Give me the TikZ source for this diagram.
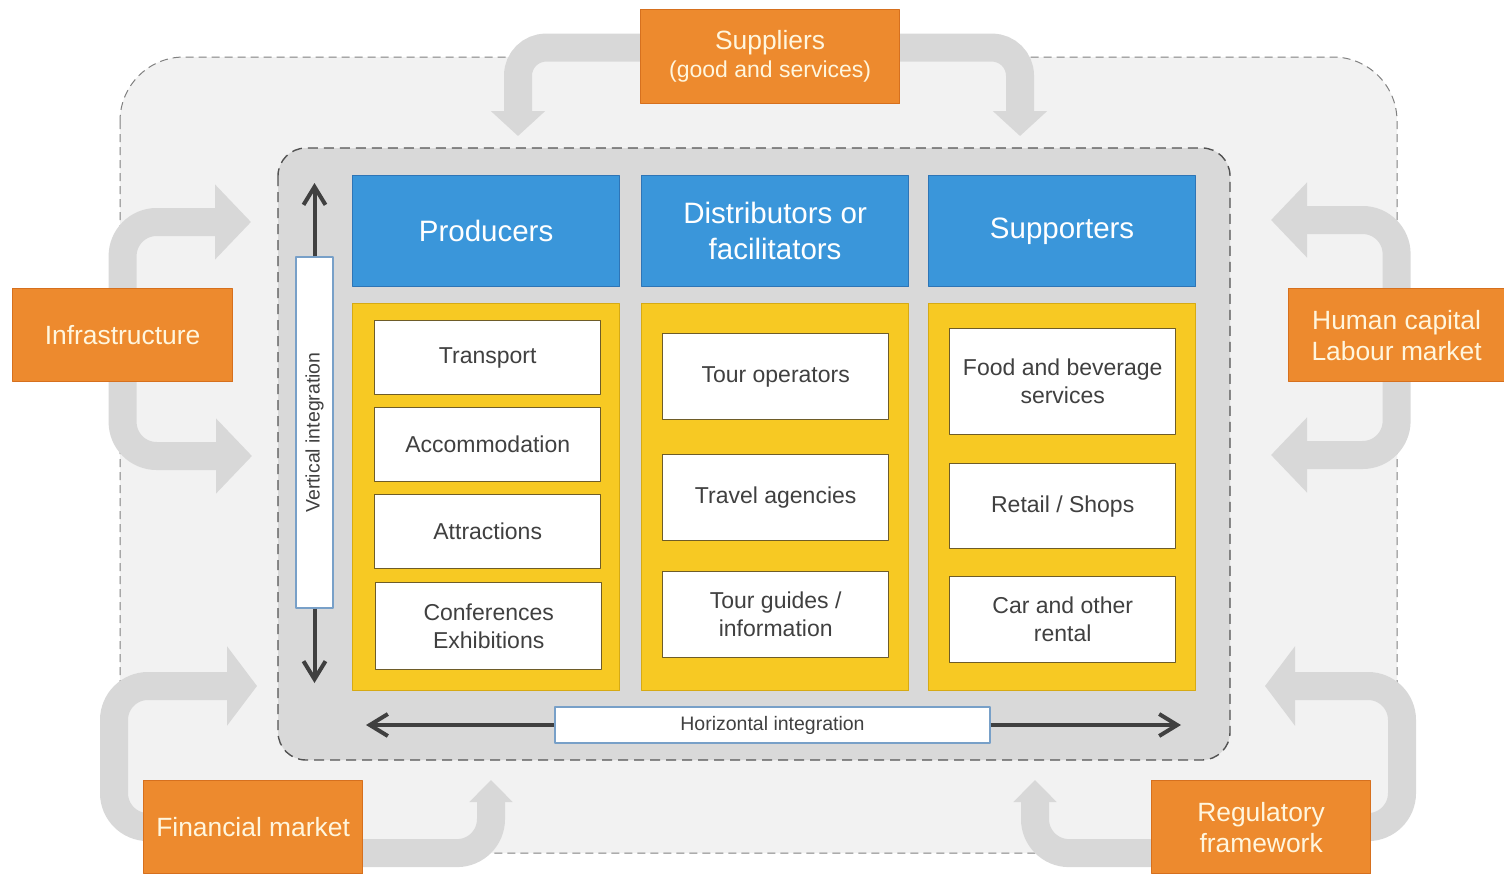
\documentclass[tikz,border=0pt]{standalone}
\usepackage{fontspec}
\setmainfont{Liberation Sans}
\usetikzlibrary{arrows.meta}
\pgfdeclarelayer{back}
\pgfdeclarelayer{loops}
\pgfsetlayers{back,loops,main}
\definecolor{hdrblue}{RGB}{58,150,218}
\definecolor{hdrline}{RGB}{46,117,182}
\definecolor{pnlyellow}{RGB}{247,201,35}
\definecolor{pnlline}{RGB}{214,170,20}
\definecolor{itemline}{RGB}{110,92,40}
\definecolor{orgbox}{RGB}{237,138,46}
\definecolor{orgline}{RGB}{214,112,30}
\definecolor{orgtext}{RGB}{255,246,222}
\definecolor{txtgray}{RGB}{64,64,64}
\definecolor{bandgray}{RGB}{216,216,216}
\definecolor{outerfill}{RGB}{242,242,242}
\definecolor{innerfill}{RGB}{217,217,217}
\definecolor{intline}{RGB}{120,160,200}
\begin{document}
\begin{tikzpicture}[x=.5pt,y=-.5pt, line join=round,
  header/.style={draw=hdrline, line width=.6pt, fill=hdrblue, text=white, anchor=north west, inner sep=0pt,
    minimum width=133.5pt, minimum height=55.5pt, align=center, font=\fontsize{14.75}{18}\selectfont},
  panel/.style={draw=pnlline, line width=.6pt, fill=pnlyellow, anchor=north west, inner sep=0pt,
    minimum width=133.5pt, minimum height=193.5pt},
  item/.style={draw=itemline, line width=.7pt, fill=white, text=txtgray, anchor=north west, inner sep=0pt,
    minimum width=113pt, align=center, font=\fontsize{11.5}{14}\selectfont},
  market/.style={draw=orgline, line width=.6pt, fill=orgbox, text=orgtext, anchor=north west, inner sep=0pt,
    align=center, font=\fontsize{13.2}{15.5}\selectfont},
  integ/.style={draw=intline, line width=.6pt, fill=white, text=txtgray, inner sep=0pt, font=\fontsize{9.75}{12}\selectfont},
  band/.style={draw=bandgray, line width=14pt, rounded corners=17pt},
  intarrow/.style={draw=txtgray, line width=2pt, -{Straight Barb[length=9pt,width=11pt]}}]
\useasboundingbox (0,0) rectangle (1504,873);
% nodes on the outside
\node[market, minimum width=129.5pt, minimum height=47pt, font=\fontsize{11.5}{14}\selectfont] (suppliers) at (640,9)
  {{\fontsize{13.2}{14}\selectfont Suppliers}\\(good and services)};
\node[market, minimum width=110pt, minimum height=46.5pt] (infra) at (12,288) {Infrastructure};
\node[market, minimum width=108pt, minimum height=46.5pt] (human) at (1288,288) {Human capital\\Labour market};
\node[market, minimum width=109.5pt, minimum height=46.5pt] (finance) at (143,780) {Financial market};
\node[market, minimum width=109.5pt, minimum height=46.5pt] (regul) at (1151,780) {Regulatory\\framework};
\coordinate (suptipL) at (518,136);
\coordinate (suptipR) at (1020,136);
\coordinate (inftipU) at (251,222);
\coordinate (inftipD) at (252,456);
\coordinate (humtipU) at (1271,220);
\coordinate (humtipD) at (1271,455);
\coordinate (fincorn) at (114,686);
\coordinate (fintipL) at (257,686);
\coordinate (fintipR) at (491,780);
\coordinate (regcorn) at (1402,686);
\coordinate (regtipR) at (1265,686);
\coordinate (regtipL) at (1035,780);
\begin{pgfonlayer}{back}
\draw[fill=outerfill, draw=gray, line width=.5pt, dash pattern=on 4pt off 2.5pt, rounded corners=32pt] (120,57) rectangle (1397,853);
\end{pgfonlayer}
\begin{pgfonlayer}{loops}
\draw[band, rounded corners=14pt, -{Triangle[width=26.5pt,length=12.5pt]}] ([yshift=4.5pt]suppliers.west) -| (suptipL);
\draw[band, rounded corners=14pt, -{Triangle[width=26.5pt,length=12.5pt]}] ([yshift=4.5pt]suppliers.east) -| (suptipR);
\draw[band, -{Triangle[width=36.5pt,length=18pt]}] (infra.center) |- (inftipU);
\draw[band, -{Triangle[width=36.5pt,length=18pt]}] (infra.center) |- (inftipD);
\draw[band, -{Triangle[width=36.5pt,length=18pt]}] (human.center) |- (humtipU);
\draw[band, -{Triangle[width=36.5pt,length=18pt]}] (human.center) |- (humtipD);
\draw[band, -{Triangle[width=39pt,length=15pt]}] (finance.center) -| (fincorn) -- (fintipL);
\draw[band, -{Triangle[width=21pt,length=11pt]}] ([yshift=-13pt]finance.center) -| (fintipR);
\draw[band, -{Triangle[width=39pt,length=15pt]}] (regul.center) -| (regcorn) -- (regtipR);
\draw[band, -{Triangle[width=21pt,length=11pt]}] ([yshift=-13pt]regul.center) -| (regtipL);
\end{pgfonlayer}
\draw[fill=innerfill, draw=txtgray!90, line width=.7pt, dash pattern=on 5pt off 3pt, rounded corners=14pt] (278,148) rectangle (1230,760);
% three columns
\node[header] (prod) at (352,175) {Producers};
\node[header] (dist) at (641,175) {Distributors or\\facilitators};
\node[header] (supp) at (928,175) {Supporters};
\node[panel] (prodpanel) at (352,303) {};
\node[panel] (distpanel) at (641,303) {};
\node[panel] (supppanel) at (928,303) {};
\node[item, minimum height=37pt] (transport) at (374,320) {Transport};
\node[item, minimum height=37pt] (accom) at (374,407) {Accommodation};
\node[item, minimum height=37pt] (attract) at (374,494) {Attractions};
\node[item, minimum height=43.5pt] (confer) at (375,582) {Conferences\\Exhibitions};
\node[item, minimum height=43pt] (tourop) at (662,333) {Tour operators};
\node[item, minimum height=43pt] (travel) at (662,454) {Travel agencies};
\node[item, minimum height=43pt] (guides) at (662,571) {Tour guides /\\information};
\node[item, minimum height=53pt] (food) at (949,328) {Food and beverage\\services};
\node[item, minimum height=42.5pt] (retail) at (949,463) {Retail / Shops};
\node[item, minimum height=43pt] (rental) at (949,576) {Car and other\\rental};
% integration
\node[integ, rotate=90, minimum width=175.5pt, minimum height=18.5pt] (vint) at (314.5,432.5) {Vertical integration};
\node[integ, minimum width=217.5pt, minimum height=18pt] (hint) at (772.5,725) {Horizontal integration};
\coordinate (vtop) at (314.5,183);
\coordinate (vbot) at (314.5,683);
\coordinate (hleft) at (366,725);
\coordinate (hright) at (1181,725);
\draw[intarrow] (vint.east) -- (vtop);
\draw[intarrow] (vint.west) -- (vbot);
\draw[intarrow] (hint.west) -- (hleft);
\draw[intarrow] (hint.east) -- (hright);
\end{tikzpicture}
\end{document}
